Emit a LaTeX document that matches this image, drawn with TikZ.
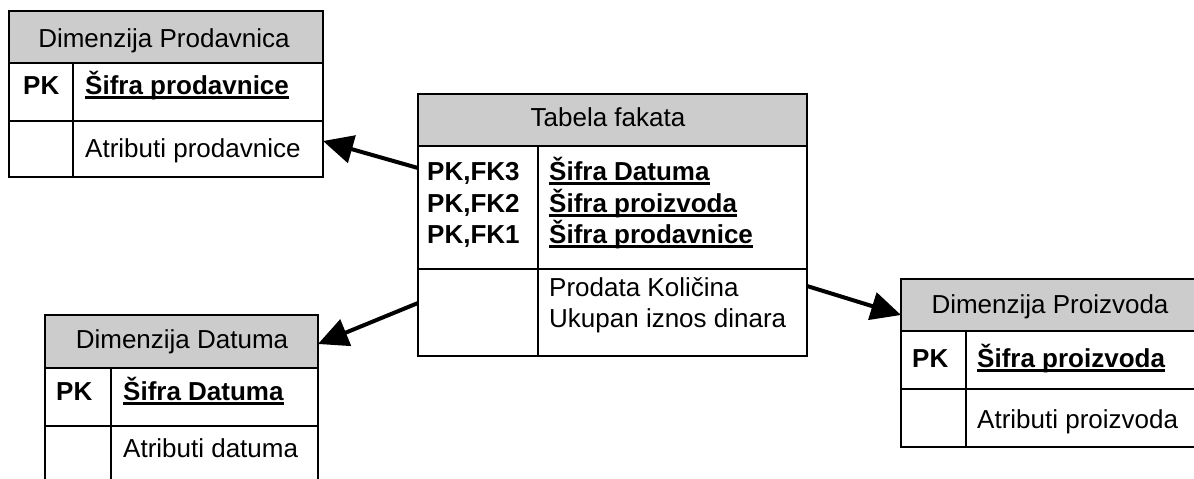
\documentclass[tikz,border=0pt]{standalone}
\usepackage{fontspec}
\setmainfont{Liberation Sans}
\usetikzlibrary{arrows.meta,calc}
\definecolor{hdrgray}{RGB}{204,204,204}
% bold key text with a thick underline
\newcommand\keyul[1]{\setbox0\hbox{\bfseries #1}\rlap{\rule[-4.5pt]{\wd0}{2.4pt}}\box0}
\begin{document}
\begin{tikzpicture}[x=1pt,y=-1pt,
  box/.style={draw, line width=2pt, inner sep=0pt, outer sep=0pt, anchor=north west},
  hdr/.style={box, fill=hdrgray},
  txt/.style={inner sep=0pt, anchor=base west, font=\fontsize{26}{31.5}\selectfont},
  btxt/.style={txt, font=\fontsize{26}{31.5}\selectfont\bfseries},
  htxt/.style={inner sep=0pt, anchor=base, font=\fontsize{26}{31.5}\selectfont},
  div/.style={line width=2pt},
  link/.style={line width=4pt, -{Triangle[length=30pt,width=28pt]}}
]
\useasboundingbox (0,0) rectangle (1194,479);
\begin{scope}
\clip (0,0) rectangle (1194,479);

% Dimenzija Prodavnica
\node[hdr, minimum width=314pt, minimum height=52pt] (pH) at (9,11) {};
\node[box, minimum width=314pt, minimum height=58pt] (pK) at (9,63) {};
\node[box, minimum width=314pt, minimum height=56pt] (pA) at (9,121) {};
\draw[div] ($(pK.north west)+(64,0)$) -- ($(pA.south west)+(64,0)$);
\node[htxt] (pHt) at (164,47) {Dimenzija Prodavnica};
\node[btxt] (pKl) at (23,94) {PK};
\node[txt] (pKt) at (85,94) {\keyul{Šifra prodavnice}};
\node[txt] (pAt) at (85,157) {Atributi prodavnice};

% Tabela fakata
\node[hdr, minimum width=389pt, minimum height=52pt] (fH) at (418,94) {};
\node[box, minimum width=389pt, minimum height=123pt] (fK) at (418,146) {};
\node[box, minimum width=389pt, minimum height=87pt] (fA) at (418,269) {};
\draw[div] ($(fK.north west)+(120,0)$) -- ($(fA.south west)+(120,0)$);
\node[htxt] (fHt) at (608,126) {Tabela fakata};
\node[btxt] (fKl1) at (427,180) {PK,FK3};
\node[btxt] (fKl2) at (427,212) {PK,FK2};
\node[btxt] (fKl3) at (427,243) {PK,FK1};
\node[txt] (fKt1) at (549,180) {\keyul{Šifra Datuma}};
\node[txt] (fKt2) at (549,212) {\keyul{Šifra proizvoda}};
\node[txt] (fKt3) at (549,243) {\keyul{Šifra prodavnice}};
\node[txt] (fAt1) at (549,296) {Prodata Količina};
\node[txt] (fAt2) at (549,327) {Ukupan iznos dinara};

% Dimenzija Datuma
\node[hdr, minimum width=273pt, minimum height=53pt] (dH) at (45,315) {};
\node[box, minimum width=273pt, minimum height=58pt] (dK) at (45,368) {};
\node[box, minimum width=273pt, minimum height=58pt] (dA) at (45,426) {};
\draw[div] ($(dK.north west)+(66,0)$) -- ($(dA.south west)+(66,0)$);
\node[htxt] (dHt) at (182,348) {Dimenzija Datuma};
\node[btxt] (dKl) at (56,400) {PK};
\node[txt] (dKt) at (123,400) {\keyul{Šifra Datuma}};
\node[txt] (dAt) at (123,457) {Atributi datuma};

% Dimenzija Proizvoda
\node[hdr, minimum width=298pt, minimum height=52pt] (xH) at (901,279) {};
\node[box, minimum width=298pt, minimum height=58pt] (xK) at (901,331) {};
\node[box, minimum width=298pt, minimum height=58pt] (xA) at (901,389) {};
\draw[div] ($(xK.north west)+(65,0)$) -- ($(xA.south west)+(65,0)$);
\node[htxt] (xHt) at (1050,313) {Dimenzija Proizvoda};
\node[btxt] (xKl) at (912,367) {PK};
\node[txt] (xKt) at (977,367) {\keyul{Šifra proizvoda}};
\node[txt] (xAt) at (977,428) {Atributi proizvoda};

% references from the fact table to the dimensions
\draw[link] ($(fK.north west)+(0,22)$) -- ($(pA.east)+(0,-8)$);
\draw[link] ($(fA.north west)+(0,34)$) -- ($(dH.east)+(0,2.5)$);
\draw[link] ($(fA.north east)+(0,17)$) -- ($(xH.west)+(0,10)$);
\end{scope}
\end{tikzpicture}
\end{document}
